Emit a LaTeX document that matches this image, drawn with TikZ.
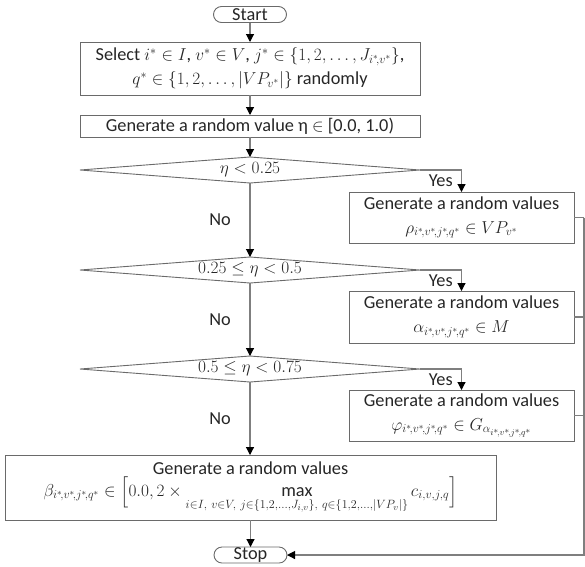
\documentclass[tikz,border=0pt]{standalone}
\usepackage{fontspec}
\setmainfont{Carlito}
\usepackage{amsmath}
\usetikzlibrary{arrows.meta,shapes.geometric}
\definecolor{linegray}{HTML}{7F7F7F}
\definecolor{boxgray}{HTML}{6A6A6A}
\definecolor{txt}{HTML}{262626}
\begin{document}
\begin{tikzpicture}[x=1pt,y=-1pt,
  font=\fontsize{18.3}{24}\selectfont, text=txt,
  every node/.style={inner sep=0pt, outer sep=0pt},
  procbox/.style={draw=boxgray, line width=0.9pt, rectangle, align=center},
  term/.style={draw=boxgray, line width=0.9pt, rectangle, rounded corners=8pt, minimum width=73pt, minimum height=16pt},
  decis/.style={draw=boxgray, line width=0.9pt, diamond, aspect=13, minimum width=340pt, minimum height=26pt},
  conn/.style={draw=linegray, line width=1.1pt},
  arr/.style={conn, -{Triangle[width=8pt,length=8pt,black]}},
  lbl/.style={text=txt}]
\useasboundingbox (0,0) rectangle (585,566);

\node[term] (start) at (250,14.5) {Start};
\node[procbox, minimum width=340pt, minimum height=53pt] (select) at (250,68.5)
  {Select $i^*\in I$, $v^*\in V$, $j^*\in\left\{1,2,\dots,J_{i^*\!,v^*}\right\}$,\\
   $q^*\in\left\{1,2,\dots,\left|VP_{v^*}\right|\right\}$ randomly};
\node[procbox, minimum width=340pt, minimum height=22pt] (value) at (250,126)
  {Generate a random value η $\in$ [0.0, 1.0)};
\node[decis] (d1) at (250,170) {$\eta<0.25$};
\node[decis] (d2) at (250,270) {$0.25\le\eta<0.5$};
\node[decis] (d3) at (250,369) {$0.5\le\eta<0.75$};

\node[procbox, minimum width=225pt, minimum height=51pt] (rho) at (461.5,217.5)
  {Generate a random values\\ $\rho_{i^*\!,v^*\!,j^*\!,q^*}\in VP_{v^*}$};
\node[procbox, minimum width=225pt, minimum height=52pt] (alpha) at (461.5,317)
  {Generate a random values\\ $\alpha_{i^*\!,v^*\!,j^*\!,q^*}\in M$};
\node[procbox, minimum width=225pt, minimum height=51pt] (phi) at (461.5,415.5)
  {Generate a random values\\ $\varphi_{i^*\!,v^*\!,j^*\!,q^*}\in G_{\alpha_{i^*\!,v^*\!,j^*\!,q^*}}$};

\node[procbox, minimum width=491pt, minimum height=65pt] (beta) at (250.5,487.5)
  {Generate a random values\\[-2pt]
   $\displaystyle \beta_{i^*\!,v^*\!,j^*\!,q^*}\in\Bigl[0.0, 2\times\max\limits_{i\in I,\ v\in V,\ j\in\{1,2,\dots,J_{i,v}\},\ q\in\{1,2,\dots,|VP_v|\}} c_{i,v,j,q}\Bigr]$};
\node[term] (stop) at (250.5,555) {Stop};

\coordinate (rt) at (584,217.5);
\coordinate (rb) at (584,555);

\draw[arr] (start) -- (select);
\draw[arr] (select) -- (value);
\draw[arr] (value) -- (d1);
\draw[arr] (d1) -- node[lbl, pos=0.5, xshift=-30pt] {No} (d2);
\draw[arr] (d2) -- node[lbl, pos=0.5, xshift=-30pt] {No} (d3);
\draw[arr] (d3) -- node[lbl, pos=0.5, xshift=-30pt] {No} (beta.north -| d3);
\draw[arr] (beta.south -| stop) -- (stop);

\draw[arr] (d1.east) -| node[lbl, pos=0.25, yshift=-11pt] {Yes} (rho.north);
\draw[arr] (d2.east) -| node[lbl, pos=0.25, yshift=-11pt] {Yes} (alpha.north);
\draw[arr] (d3.east) -| node[lbl, pos=0.25, yshift=-11pt] {Yes} (phi.north);

\draw[conn] (rho.east) -- (rt);
\draw[conn] (alpha.east) -- (alpha.east -| rt);
\draw[conn] (phi.east) -- (phi.east -| rt);
\draw[arr] (rt) -- (rb) -- (stop.east);
\end{tikzpicture}
\end{document}
